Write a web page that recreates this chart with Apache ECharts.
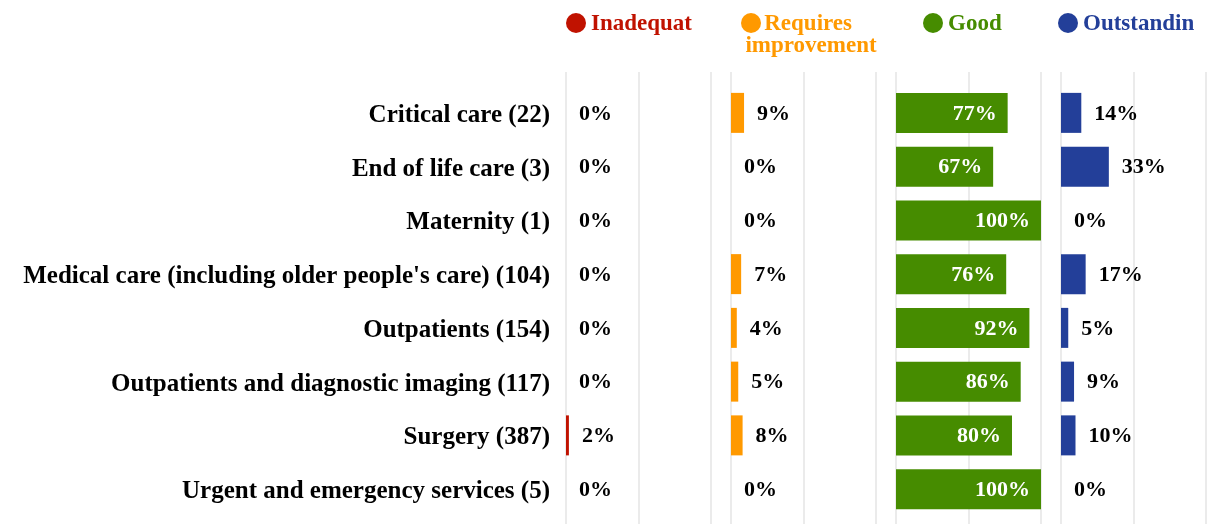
<!DOCTYPE html>
<html>
<head>
<meta charset="utf-8">
<script src="https://cdn.jsdelivr.net/npm/echarts@6/dist/echarts.min.js"></script>
<style>html,body{margin:0;padding:0;background:#fff}#c{width:1208px;height:524px}</style>
</head>
<body>
<div id="c"></div>
<script>
const categories = ["Critical care (22)","End of life care (3)","Maternity (1)","Medical care (including older people's care) (104)","Outpatients (154)","Outpatients and diagnostic imaging (117)","Surgery (387)","Urgent and emergency services (5)"];
const seriesNames = ["Inadequate","Requires improvement","Good","Outstanding"];
const inadequate = [0,0,0,0,0,0,2,0];
const requiresImprovement = [9,0,0,7,4,5,8,0];
const good = [77,67,100,76,92,86,80,100];
const outstanding = [14,33,0,17,5,9,10,0];
const xTicks = [0,50,100];

const values = [inadequate, requiresImprovement, good, outstanding];
const colors = ['#c01200','#ff9900','#468c00','#233f99'];
const FONT = '"Liberation Serif", "Times New Roman", serif';
const panelLeft = [566, 731, 896, 1061];
const panelW = 145;

const grids = [], xAxes = [], yAxes = [], series = [], graphics = [];
for (let i = 0; i < 4; i++) {
  grids.push({left: panelLeft[i], width: panelW, top: 86, height: 430});
  xAxes.push({type:'value', gridIndex:i, min:xTicks[0], max:xTicks[xTicks.length-1], interval:50, show:false, splitLine:{show:false}});
  yAxes.push({type:'category', gridIndex:i, data:categories, inverse:true,
    axisLine:{show:false}, axisTick:{show:false},
    axisLabel:{show:i===0, margin:16, formatter:'{a|{value}}',
      rich:{a:{color:'#000', fontFamily:FONT, fontWeight:'bold', fontSize:25, padding:[5,0,0,0]}}}});
  const isGood = i === 2;
  series.push({
    type:'bar', name:seriesNames[i], xAxisIndex:i, yAxisIndex:i, data:values[i],
    barWidth:40, itemStyle:{color:colors[i]},
    label:{show:true, position: isGood ? 'insideRight' : 'right', distance: isGood ? 11 : 13,
      offset:[0,1],
      formatter: p => p.value + '%', color: isGood ? '#fff' : '#000',
      fontFamily:FONT, fontWeight:'bold', fontSize:22}
  });
}
// gridline panels
for (let i = 0; i < 4; i++) {
  grids.push({left: panelLeft[i], width: panelW, top: 72, bottom: 0});
  xAxes.push({type:'value', gridIndex:4+i, min:xTicks[0], max:xTicks[xTicks.length-1], interval:50,
    axisLabel:{show:false}, axisLine:{show:false}, axisTick:{show:false},
    splitLine:{show:true, lineStyle:{color:'#e4e4e4', width:1.5}}, z:0});
  yAxes.push({type:'value', gridIndex:4+i, show:false, splitLine:{show:false}});
}
// legend (circle + label) above each panel
const legendDot = [576, 751, 933, 1068];
const legendTextWidth = [110, 132, 114, 121];
for (let i = 0; i < 4; i++) {
  graphics.push({type:'circle', shape:{cx:legendDot[i], cy:23, r:10}, style:{fill:colors[i]}});
  const two = i === 1;
  graphics.push({type:'text',
    x: two ? 811 : legendDot[i] + 15, y: two ? 13 : 24,
    style:{text: seriesNames[i], fill: colors[i], font: 'bold 23px ' + FONT,
      align: two ? 'center' : 'left', verticalAlign: two ? 'top' : 'middle',
      width: legendTextWidth[i], overflow: two ? 'break' : 'truncate', ellipsis:'', lineHeight:22}});
}

const chart = echarts.init(document.getElementById('c'), null, {renderer:'canvas'});
chart.setOption({
  animation:false,
  backgroundColor:'#fff',
  grid:grids, xAxis:xAxes, yAxis:yAxes, series:series, graphic:graphics
});
</script>
</body>
</html>
